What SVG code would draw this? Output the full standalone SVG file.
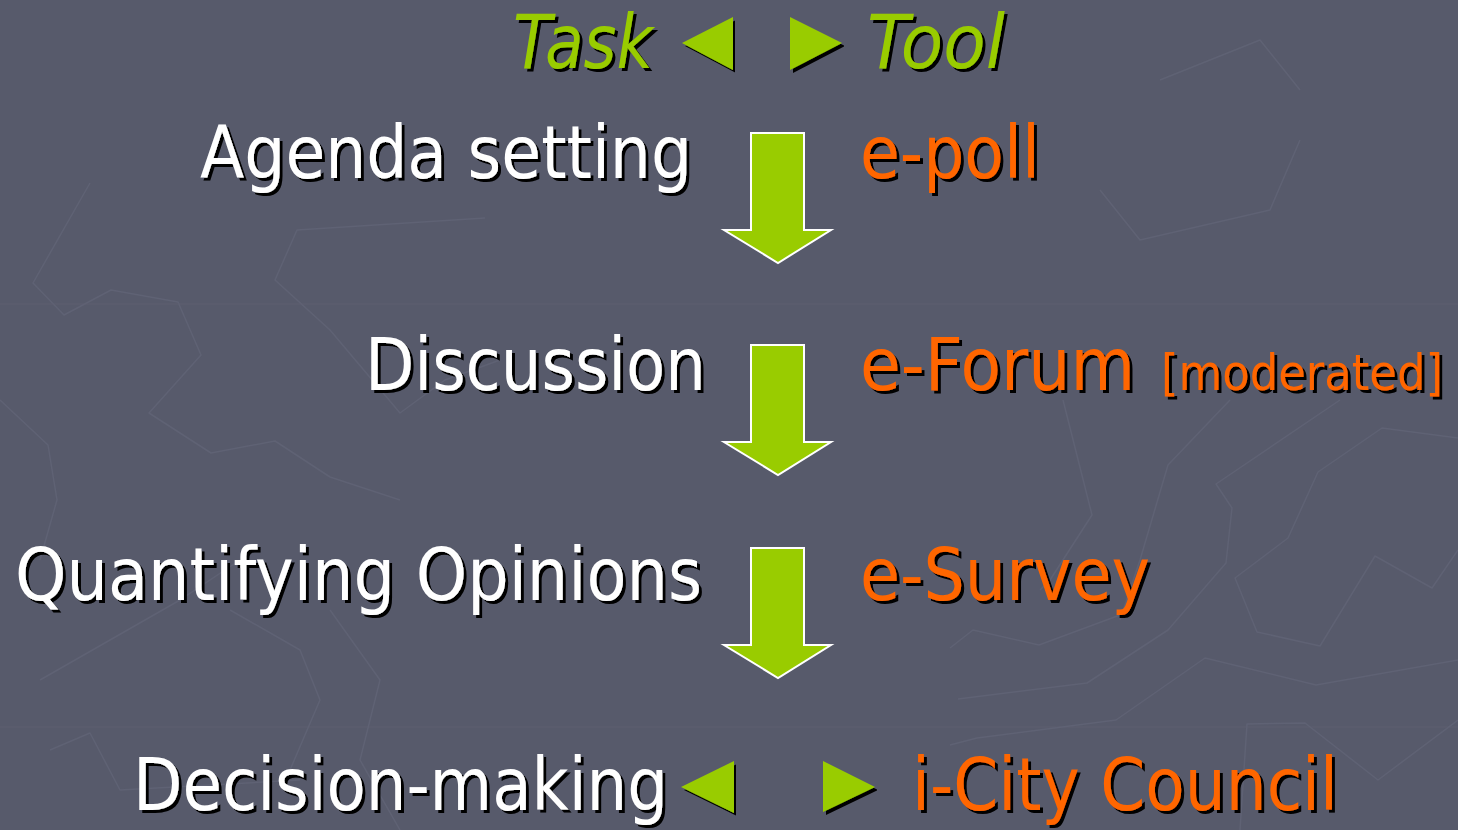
<svg xmlns="http://www.w3.org/2000/svg" width="1458" height="830" viewBox="0 0 1458 830">
  <defs>
    <filter id="sh" x="-2%" y="-10%" width="104%" height="125%">
      <feOffset in="SourceAlpha" dx="3" dy="3" result="o"/>
      <feFlood flood-color="#000"/>
      <feComposite in2="o" operator="in" result="s"/>
      <feMerge><feMergeNode in="s"/><feMergeNode in="SourceGraphic"/></feMerge>
    </filter>
    <polygon id="arrow" points="751,0 804,0 804,97 831,97 778,130 724,97 751,97"/>
  </defs>
  <style>
    text { font-family: "DejaVu Sans", Verdana, sans-serif; font-size: 73px; filter: url(#sh); }
    .task { fill: #ffffff; }
    .tool { fill: #ff6600; }
    .head { fill: #99cc00; font-style: italic; font-size: 75px; }
    .small { font-family: "DejaVu Sans Condensed", "Liberation Sans", sans-serif; font-size: 50px; }
    .tri { fill: #99cc00; filter: url(#sh); }
    .arr { fill: #99cc00; stroke: #ffffff; stroke-width: 2; stroke-linejoin: miter; }
    .bg { fill: none; stroke: #5f6274; stroke-width: 1.5; stroke-linejoin: round; }
  </style>
  <rect width="1458" height="830" fill="#575a6b"/>
  <g id="background">
    <polyline class="bg" points="90,183 33,283 64,315 111,290 178,302 201,355 149,413 211,453 275,441 330,477 400,500"/>
    <polyline class="bg" points="485,218 297,230 275,280 330,330 400,413 445,380 500,360"/>
    <polyline class="bg" points="0,400 48,445 57,500 40,560"/>
    <line class="bg" x1="0" y1="304" x2="1458" y2="304" stroke-opacity="0.5"/>
    <line class="bg" x1="0" y1="727" x2="1458" y2="727" stroke-opacity="0.5"/>
    <polyline class="bg" points="1063,400 1092,515 1050,580 1040,590"/>
    <polyline class="bg" points="1230,400 1168,465 1140,560 1120,620"/>
    <polyline class="bg" points="1340,400 1216,484 1232,508 1226,563 1168,630 1087,683 958,699"/>
    <polyline class="bg" points="1458,438 1382,428 1318,472 1288,538 1235,578 1257,632 1320,646 1375,556 1432,588 1458,550"/>
    <polyline class="bg" points="950,648 973,630 1039,645 1120,615"/>
    <polyline class="bg" points="1458,660 1316,685 1205,658 1116,720 977,738 950,745"/>
    <polyline class="bg" points="1240,830 1247,724 1305,723 1378,780 1458,720"/>
    <polyline class="bg" points="40,680 180,600 240,560"/>
    <polyline class="bg" points="50,750 90,733 120,790 300,780"/>
    <polyline class="bg" points="230,610 300,650 320,700 290,770"/>
    <polyline class="bg" points="330,610 380,680 360,760 400,830"/>
    <polyline class="bg" points="1100,190 1140,240 1270,210 1300,140"/>
    <polyline class="bg" points="1160,80 1260,40 1300,90"/>
  </g>
  <g id="header">
    <text class="head" x="513" y="68" textLength="140" lengthAdjust="spacingAndGlyphs">Task</text>
    <polygon class="tri" points="682,43 733,17 733,70"/>
    <polygon class="tri" points="790,17 842,43 790,70"/>
    <text class="head" x="867" y="68" textLength="138" lengthAdjust="spacingAndGlyphs">Tool</text>
  </g>
  <g id="row-agenda">
    <text class="task" x="200" y="178" textLength="492" lengthAdjust="spacingAndGlyphs">Agenda setting</text>
    <text class="tool" x="860" y="178" textLength="180" lengthAdjust="spacingAndGlyphs">e-poll</text>
  </g>
  <g id="row-discussion">
    <text class="task" x="365" y="390" textLength="341" lengthAdjust="spacingAndGlyphs">Discussion</text>
    <text class="tool" x="860" y="390" textLength="275" lengthAdjust="spacingAndGlyphs">e-Forum</text>
    <text class="tool small" x="1161" y="390" textLength="282" lengthAdjust="spacingAndGlyphs">[moderated]</text>
  </g>
  <g id="row-quantifying">
    <text class="task" x="15" y="600" textLength="687" lengthAdjust="spacingAndGlyphs">Quantifying Opinions</text>
    <text class="tool" x="860" y="600" textLength="290" lengthAdjust="spacingAndGlyphs">e-Survey</text>
  </g>
  <g id="row-decision">
    <text class="task" x="133" y="810" textLength="535" lengthAdjust="spacingAndGlyphs">Decision-making</text>
    <polygon class="tri" points="681,787 734,761 734,813"/>
    <polygon class="tri" points="823,761 875,787 823,812"/>
    <text class="tool" x="912" y="810" textLength="426" lengthAdjust="spacingAndGlyphs">i-City Council</text>
  </g>
  <g id="connectors">
    <use href="#arrow" class="arr" y="133"/>
    <use href="#arrow" class="arr" y="345"/>
    <use href="#arrow" class="arr" y="548"/>
  </g>
</svg>
